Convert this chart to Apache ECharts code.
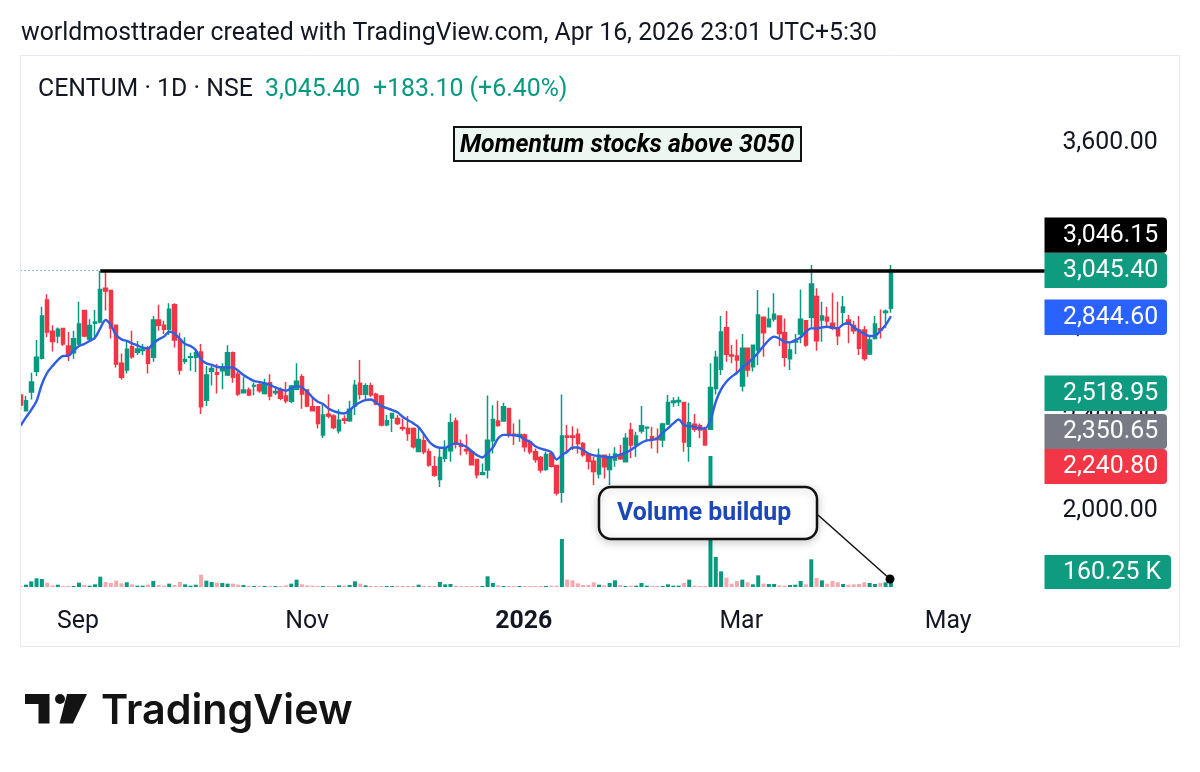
<!DOCTYPE html>
<html>
<head>
    <meta charset="utf-8">
    <title>CENTUM</title>
    <style>
        body { margin: 0; padding: 0; background-color: #fff; }
        #chart { width: 1200px; height: 772px; }
    </style>
</head>
<body>
    <div id="chart"></div>
    <script src="https://cdn.jsdelivr.net/npm/echarts@6/dist/echarts.min.js"></script>
    <script>
        // values, one entry per daily candle
        const opens = [2502,2434,2515,2605,2662,2915,2779,2759,2791,2715,2686,2724,2869,2746,2814,2819,2966,2956,2805,2640,
            2611,2712,2688,2696,2706,2666,2828,2805,2788,2895,2744,2649,2666,2666,2689,2480,2605,2599,2608,2589,
            2686,2593,2512,2524,2541,2547,2509,2556,2512,2524,2498,2475,2527,2582,2524,2451,2451,2328,2419,2411,
            2347,2398,2390,2454,2553,2506,2542,2506,2498,2373,2402,2400,2361,2357,2357,2257,2303,2256,2190,2135,
            2228,2260,2389,2289,2266,2256,2222,2157,2176,2303,2389,2389,2444,2332,2324,2329,2299,2256,2231,2179,
            2248,2196,2080,2324,2324,2332,2292,2246,2214,2159,2240,2179,2220,2243,2212,2350,2285,2346,2359,2321,
            2314,2307,2376,2470,2473,2470,2280,2375,2369,2350,2353,2531,2614,2795,2676,2672,2541,2705,2625,2698,
            2840,2799,2833,2846,2773,2660,2733,2767,2825,2840,2930,2828,2840,2814,2792,2862,2828,2804,2785,2785,
            2680,2748,2790,2861,2879];
        const closes = [2459,2477,2559,2666,2846,2776,2735,2788,2724,2677,2747,2811,2759,2804,2819,2961,2954,2793,2637,2579,
            2701,2669,2702,2701,2640,2828,2805,2788,2875,2741,2611,2657,2669,2686,2451,2589,2617,2593,2625,2686,
            2579,2507,2524,2502,2544,2521,2553,2498,2517,2488,2477,2541,2562,2507,2454,2434,2379,2415,2411,2361,
            2393,2393,2440,2545,2506,2542,2502,2463,2372,2390,2422,2379,2357,2335,2277,2309,2256,2198,2154,2231,
            2270,2382,2289,2280,2260,2199,2156,2164,2306,2396,2370,2451,2332,2328,2331,2277,2256,2222,2176,2244,
            2193,2077,2324,2319,2319,2292,2243,2214,2170,2241,2190,2234,2246,2225,2314,2285,2324,2369,2362,2314,
            2309,2376,2470,2476,2478,2298,2382,2353,2350,2285,2535,2666,2776,2679,2672,2654,2705,2611,2718,2850,
            2773,2831,2853,2770,2666,2698,2737,2831,2720,2985,2738,2846,2824,2792,2760,2885,2811,2782,2705,2661,
            2741,2811,2785,2866,3045.4];
        const lows = [2437,2433,2483,2585,2657,2753,2691,2727,2715,2650,2660,2720,2753,2741,2744,2814,2869,2748,2622,2570,
            2596,2660,2676,2676,2596,2647,2782,2767,2763,2709,2591,2637,2608,2602,2420,2454,2544,2509,2527,2585,
            2556,2498,2509,2498,2501,2512,2505,2480,2502,2480,2466,2466,2524,2443,2449,2431,2357,2316,2401,2353,
            2335,2376,2386,2415,2483,2477,2495,2458,2367,2367,2341,2372,2347,2303,2270,2254,2245,2190,2147,2103,
            2211,2212,2270,2241,2245,2196,2140,2154,2140,2248,2364,2386,2318,2285,2299,2256,2245,2208,2164,2173,
            2187,2066,2034,2248,2263,2248,2234,2179,2111,2140,2140,2111,2191,2220,2212,2227,2234,2335,2299,2270,
            2249,2275,2372,2451,2454,2256,2212,2343,2314,2282,2350,2505,2589,2647,2640,2596,2517,2582,2604,2633,
            2669,2796,2821,2715,2625,2611,2680,2727,2712,2792,2695,2734,2802,2785,2720,2806,2727,2767,2676,2651,
            2676,2744,2748,2792,2860];
        const highs = [2505,2498,2599,2741,2886,2940,2805,2796,2795,2776,2782,2908,2872,2831,2872,3042,3042,2961,2805,2683,
            2733,2782,2737,2724,2715,2846,2895,2825,2901,2901,2773,2753,2686,2701,2724,2628,2628,2637,2640,2718,
            2691,2604,2582,2535,2556,2553,2573,2593,2538,2535,2559,2546,2640,2593,2524,2492,2454,2463,2506,2419,
            2440,2414,2477,2567,2654,2553,2556,2512,2502,2415,2425,2415,2400,2411,2361,2364,2332,2270,2237,2270,
            2306,2422,2405,2309,2332,2263,2222,2205,2500,2458,2477,2469,2444,2379,2396,2335,2309,2270,2237,2256,
            2251,2198,2505,2372,2367,2357,2298,2248,2234,2270,2241,2248,2275,2285,2336,2382,2343,2454,2364,2364,
            2357,2382,2502,2492,2495,2473,2469,2420,2379,2364,2640,2695,2846,2867,2720,2744,2767,2708,2720,2959,
            2843,2883,2944,2846,2835,2727,2767,2961,2828,3067,2966,2908,2886,2947,2908,2932,2850,2825,2846,2802,
            2763,2846,2874,2874,3067];
        const movingAverage = [2369,2405,2438,2476,2549,2599,2628,2654,2672,2673,2695,2715,2724,2737,2751,2792,2828,2806,2763,2744,
            2737,2727,2718,2708,2705,2727,2744,2756,2777,2770,2746,2724,2715,2698,2657,2640,2633,2625,2622,2622,
            2622,2608,2589,2575,2563,2559,2553,2546,2535,2527,2521,2531,2541,2535,2517,2492,2473,2463,2444,2432,
            2425,2422,2437,2457,2471,2480,2483,2469,2454,2445,2437,2427,2408,2393,2379,2363,2332,2299,2280,2273,
            2273,2285,2292,2287,2277,2258,2241,2231,2251,2274,2314,2329,2329,2327,2324,2309,2299,2280,2269,2263,
            2254,2222,2241,2256,2274,2274,2263,2248,2240,2237,2234,2231,2234,2244,2251,2263,2280,2295,2305,2307,
            2314,2338,2357,2379,2396,2372,2367,2364,2357,2357,2393,2473,2527,2560,2582,2599,2622,2640,2662,2686,
            2715,2741,2756,2748,2733,2731,2741,2753,2777,2792,2792,2796,2799,2795,2792,2809,2814,2796,2782,2767,
            2759,2759,2782,2806,2844.6];
        // volume in thousands
        const volumes = [28,66,161,247,228,123,47,66,28,28,28,123,57,38,76,294,142,114,180,104,
            133,76,38,38,66,171,57,38,95,57,142,76,38,66,351,180,142,123,114,95,
            95,66,57,28,28,28,28,28,28,28,47,95,209,76,47,38,28,28,28,28,
            47,38,57,161,95,47,28,28,28,28,28,28,28,28,28,66,28,28,28,142,
            76,85,38,28,28,28,28,28,304,114,47,28,28,28,28,28,28,28,28,28,
            38,38,1367,209,190,104,57,57,133,66,47,114,190,57,28,38,38,114,38,28,
            28,28,76,38,38,114,209,38,28,28,3730,854,446,266,95,171,209,133,76,332,
            95,85,85,47,38,57,66,171,76,788,256,190,95,171,133,85,66,76,85,133,
            114,85,114,133,160.25];

        const priceTicks = [2000, 2400, 2800, 3200, 3600];
        const monthLabels = ['Sep', 'Nov', '2026', 'Mar', 'May'];
        const monthPositions = [11.3, 54.5, 95.3, 136.3, 175.3]; // in candle slots
        const resistance = 3043;
        const tagLabels = ['3,046.15', '3,045.40', '2,844.60', '2,518.95', '2,350.65', '2,240.80', '160.25 K'];
        const headerText = 'worldmosttrader created with TradingView.com, Apr 16, 2026 23:01 UTC+5:30';
        const symbolText = 'CENTUM · 1D · NSE';
        const lastClose = '3,045.40';
        const lastChange = '+183.10 (+6.40%)';

        const GREEN = '#089981';
        const RED = '#f23645';
        const slots = 194;
        const categories = Array.from({ length: slots }, (_, i) => String(i));
        const font = 'Roboto, sans-serif';
        const fontSize = 24.85;

        function text(str, x, y, size, color, extra) {
            return {
                type: 'text',
                z: 110,
                style: Object.assign({
                    text: str, x: x, y: y, fill: color,
                    font: size + 'px ' + font,
                    textVerticalAlign: 'middle'
                }, extra || {})
            };
        }

        function tag(label, top, bottom, color, right) {
            return [{
                type: 'rect',
                z: 100,
                shape: { x: 1044.5, y: top, width: (right || 1167) - 1044.5, height: bottom - top, r: [0, 4, 4, 0] },
                style: { fill: color }
            }, text(label, 1063, (top + bottom) / 2 + 0.5, fontSize, '#fff')];
        }

        const chart = echarts.init(document.getElementById('chart'));
        chart.setOption({
            animation: false,
            backgroundColor: '#fff',
            grid: { left: 18, top: 60, width: 1029.4, height: 527 },
            xAxis: [{
                type: 'category',
                data: categories,
                show: false
            }, {
                type: 'value',
                min: 0,
                max: slots,
                position: 'bottom',
                splitLine: { show: false },
                axisLine: { show: false },
                axisTick: { show: false },
                axisLabel: {
                    margin: 22,
                    customValues: monthPositions,
                    fontFamily: font,
                    fontSize: fontSize,
                    color: '#131722',
                    formatter: function (v) {
                        const l = monthLabels[monthPositions.indexOf(v)];
                        return l === '2026' ? '{b|' + l + '}' : l;
                    },
                    rich: { b: { fontFamily: font, fontSize: fontSize, fontWeight: 'bold', color: '#131722' } }
                }
            }],
            yAxis: [{
                type: 'value',
                position: 'right',
                min: 1668,
                max: 3958,
                splitLine: { show: false },
                axisLine: { show: false },
                axisTick: { show: false },
                axisLabel: {
                    margin: 15,
                    customValues: priceTicks,
                    fontFamily: font,
                    fontSize: fontSize,
                    color: '#131722',
                    formatter: function (v) {
                        return v.toLocaleString('en-US', { minimumFractionDigits: 2 });
                    }
                }
            }, {
                type: 'value',
                min: 0,
                max: 15000,
                show: false
            }],
            series: [{
                name: 'Volume',
                type: 'bar',
                yAxisIndex: 1,
                barWidth: 4,
                data: volumes.map((v, i) => ({
                    value: v,
                    itemStyle: { color: closes[i] >= opens[i] ? GREEN : '#f7a8ad' }
                }))
            }, {
                name: 'CENTUM',
                type: 'candlestick',
                barWidth: 4,
                data: opens.map((o, i) => [o, closes[i], lows[i], highs[i]]),
                itemStyle: {
                    color: GREEN, color0: RED,
                    borderColor: GREEN, borderColor0: RED,
                    borderWidth: 1.5
                },
                markLine: {
                    silent: true,
                    symbol: 'none',
                    label: { show: false },
                    data: [
                        [{ coord: [15, resistance], lineStyle: { color: '#000', width: 3.5, type: 'solid' } }, { coord: [193, resistance] }],
                        [{ coord: [0, resistance], lineStyle: { color: '#1a7f8a', width: 1, type: [1, 3] } }, { coord: [15, resistance] }]
                    ]
                }
            }, {
                name: 'MA',
                type: 'line',
                data: movingAverage,
                symbol: 'none',
                smooth: 0.3,
                lineStyle: { color: '#2f5fe0', width: 2.4 },
                z: 5
            }],
            graphic: [
                // clip the first candle at the frame, then the frame itself
                { type: 'rect', z: 90, shape: { x: 0, y: 55, width: 20, height: 592 }, style: { fill: '#fff' } },
                { type: 'rect', z: 91, shape: { x: 20.5, y: 55.5, width: 1159, height: 591 }, style: { fill: 'none', stroke: '#e8eaef', lineWidth: 1 } },

                text(headerText, 21, 34, fontSize, '#131722'),
                text(symbolText, 38, 90, fontSize, '#131722'),
                text(lastClose, 265, 90, fontSize, GREEN),
                text(lastChange, 373, 90, fontSize, GREEN),

                ...tag(tagLabels[0], 217.5, 252.8, '#000'),
                ...tag(tagLabels[1], 253, 288, '#0f9b80'),
                ...tag(tagLabels[2], 299.5, 335, '#2962ff'),
                ...tag(tagLabels[3], 375.5, 411, '#0f9b80'),
                ...tag(tagLabels[4], 414, 449, '#787b86'),
                ...tag(tagLabels[5], 449, 484, RED),
                ...tag(tagLabels[6], 555, 589, '#0f9b80', 1171),

                // annotations
                { type: 'rect', z: 100, shape: { x: 454, y: 127, width: 347, height: 34 }, style: { fill: '#edf7f1', stroke: '#111', lineWidth: 2 } },
                text('Momentum stocks above 3050', 460, 146, 24.8, '#000', { font: 'italic bold 24.8px ' + font }),

                { type: 'line', z: 100, shape: { x1: 818, y1: 515, x2: 890, y2: 579 }, style: { stroke: '#111', lineWidth: 1.5 } },
                { type: 'circle', z: 101, shape: { cx: 890, cy: 579, r: 4.5 }, style: { fill: '#000' } },
                {
                    type: 'rect', z: 100,
                    shape: { x: 599, y: 487, width: 218, height: 52, r: 12 },
                    style: { fill: '#fff', stroke: '#111', lineWidth: 2.5, shadowBlur: 10, shadowColor: 'rgba(0,0,0,0.2)', shadowOffsetY: 2 }
                },
                text('Volume buildup', 617, 514, 24.85, '#1c47b8', { font: 'bold 24.85px ' + font }),

                // TradingView logo
                { type: 'polygon', z: 100, shape: { points: [[25, 694], [49.5, 694], [49.5, 723.5], [38.5, 723.5], [38.5, 704], [25, 704]] }, style: { fill: '#131313' } },
                { type: 'circle', z: 100, shape: { cx: 60, cy: 699, r: 5 }, style: { fill: '#131313' } },
                { type: 'polygon', z: 100, shape: { points: [[67, 694], [87, 694], [73, 723.5], [59.5, 723.5]] }, style: { fill: '#131313' } },
                text('TradingView', 101, 712, 41.3, '#131313', { font: '600 41.3px Inter, sans-serif' })
            ]
        });
    </script>
</body>
</html>
